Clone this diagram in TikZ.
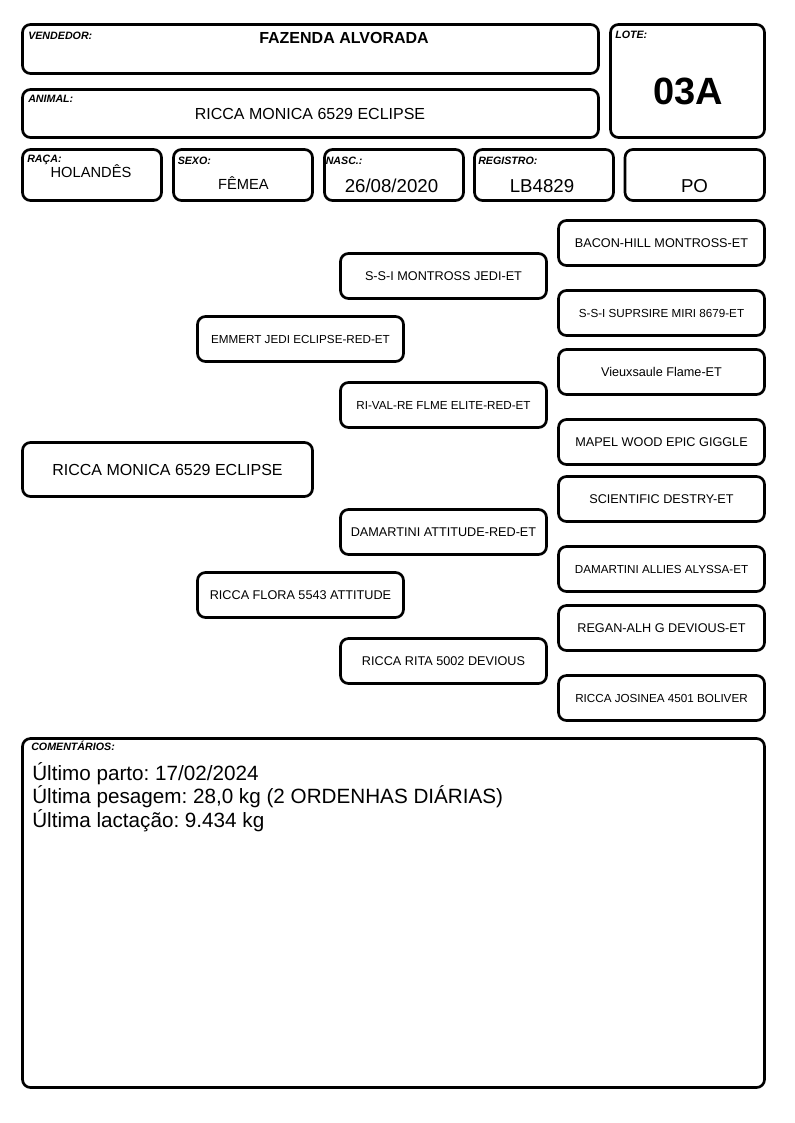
\documentclass[tikz,border=0pt]{standalone}
\usepackage{fontspec}
\setmainfont{Liberation Sans}
\frenchspacing
\tikzset{
  cell/.style={line width=2pt, rounded corners=6pt},
  tag/.style={anchor=base west, inner sep=0pt, font=\fontsize{8}{9}\selectfont\bfseries\itshape},
  val/.style={anchor=base, inner sep=0pt},
  ped/.style={draw, line width=2pt, rounded corners=6pt, minimum width=154.5pt,
    minimum height=33.75pt, inner sep=0pt, font=\fontsize{9.5}{11}\selectfont},
  narrow/.style={font=\fontsize{8.75}{10}\selectfont}
}
\begin{document}
\begin{tikzpicture}[x=0.75pt, y=-0.75pt]
  \useasboundingbox (0,0) rectangle (794,1123);
  % header cells
  \draw [cell] (22.5,24.5) rectangle (598.5,73.5);
  \draw [cell] (22.5,89.5) rectangle (598.5,137.5);
  \draw [cell] (610.5,24.5) rectangle (764.5,137.5);
  \draw [cell] (22.5,149.5) rectangle (161.5,200.5);
  \draw [cell] (173.5,149.5) rectangle (312.5,200.5);
  \draw [cell] (324.5,149.5) rectangle (463.5,200.5);
  \draw [cell] (474.5,149.5) rectangle (613.5,200.5);
  \draw [cell] (625,149.5) rectangle (764.5,200.5);
  \node [tag] (vendtag) at (28,39.3) {VENDEDOR:};
  \node [val, font=\fontsize{12}{14}\selectfont\bfseries] (vend) at (344,43.3) {FAZENDA ALVORADA};
  \node [tag] (animtag) at (28,102.5) {ANIMAL:};
  \node [val, font=\fontsize{12}{14}\selectfont] (anim) at (310,119.3) {RICCA MONICA 6529 ECLIPSE};
  \node [tag] (lotetag) at (615,39) {LOTE:};
  \node [val, font=\fontsize{28.5}{30}\selectfont\bfseries] (lote) at (688,105) {03A};
  \node [tag] (racatag) at (27,162.5) {RAÇA:};
  \node [val, font=\fontsize{11}{13}\selectfont] (raca) at (91,178) {HOLANDÊS};
  \node [tag] (sexotag) at (177.5,165) {SEXO:};
  \node [val, font=\fontsize{11}{13}\selectfont] (sexo) at (243.5,189.5) {FÊMEA};
  \node [tag] (nasctag) at (325.5,165) {NASC.:};
  \node [val, font=\fontsize{14}{16}\selectfont] (nasc) at (391.5,193) {26/08/2020};
  \node [tag] (regtag) at (478,165) {REGISTRO:};
  \node [val, font=\fontsize{14}{16}\selectfont] (reg) at (542,193) {LB4829};
  \node [val, font=\fontsize{14}{16}\selectfont] (po) at (694.5,193) {PO};
  % pedigree
  \node [ped, minimum width=217.5pt, minimum height=40.5pt, font=\fontsize{12}{14}\selectfont]
    (monica) at (167.5,469.5) {RICCA MONICA 6529 ECLIPSE};
  \node [ped, narrow] (emmert) at (300.5,339) {EMMERT JEDI ECLIPSE-RED-ET};
  \node [ped] (flora) at (300.5,595) {RICCA FLORA 5543 ATTITUDE};
  \node [ped] (jedi) at (443.5,276) {S-S-I MONTROSS JEDI-ET};
  \node [ped, narrow] (rival) at (443.5,405) {RI-VAL-RE FLME ELITE-RED-ET};
  \node [ped] (attitude) at (443.5,532) {DAMARTINI ATTITUDE-RED-ET};
  \node [ped] (rita) at (443.5,661) {RICCA RITA 5002 DEVIOUS};
  \node [ped] (bacon) at (661.5,243) {BACON-HILL MONTROSS-ET};
  \node [ped, narrow] (miri) at (661.5,313) {S-S-I SUPRSIRE MIRI 8679-ET};
  \node [ped] (flame) at (661.5,372) {Vieuxsaule Flame-ET};
  \node [ped] (giggle) at (661.5,442) {MAPEL WOOD EPIC GIGGLE};
  \node [ped] (destry) at (661.5,499) {SCIENTIFIC DESTRY-ET};
  \node [ped, narrow] (alyssa) at (661.5,569) {DAMARTINI ALLIES ALYSSA-ET};
  \node [ped] (devious) at (661.5,628) {REGAN-ALH G DEVIOUS-ET};
  \node [ped, narrow] (josinea) at (661.5,698) {RICCA JOSINEA 4501 BOLIVER};
  % comments
  \draw [cell] (22.5,738.5) rectangle (764.5,1087.5);
  \node [tag] (comtag) at (31,750) {COMENTÁRIOS:};
  \node [anchor=base west, inner sep=0pt, font=\fontsize{15.5}{18}\selectfont] (parto) at (32,780) {Último parto: 17/02/2024};
  \node [anchor=base west, inner sep=0pt, font=\fontsize{15.5}{18}\selectfont] (pesagem) at (32,803.5) {Última pesagem: 28,0 kg (2 ORDENHAS DIÁRIAS)};
  \node [anchor=base west, inner sep=0pt, font=\fontsize{15.5}{18}\selectfont] (lactacao) at (32,827) {Última lactação: 9.434 kg};
\end{tikzpicture}
\end{document}
